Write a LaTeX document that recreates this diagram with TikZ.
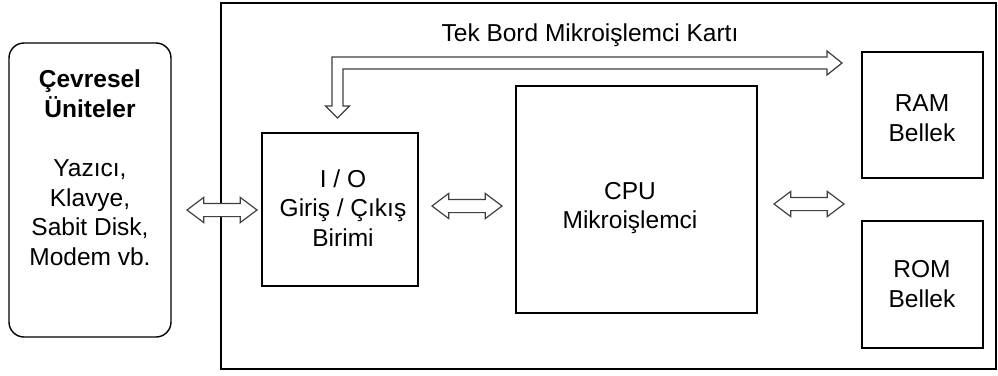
\documentclass[tikz,border=0pt]{standalone}
\usepackage{fontspec}
\setmainfont{Liberation Sans}
\usetikzlibrary{shapes.arrows}
\begin{document}
\begin{tikzpicture}[x=1pt,y=-1pt,
  box/.style={draw, line width=1.4pt, inner sep=0pt, outer sep=0pt},
  txt/.style={font=\fontsize{24.5}{29.6}\selectfont, align=center, inner sep=0pt},
  dbl/.style={draw=black!75, line width=1.2pt, fill=white, double arrow,
    minimum height=70pt, double arrow head extend=6pt,
    double arrow tip angle=74, inner xsep=0pt, inner ysep=6pt},
  bus/.style={draw=black!75, line width=1.2pt, fill=white, line join=miter}]
\useasboundingbox (0,0) rectangle (998,375);
% outer board frame
\node[box, minimum width=775pt, minimum height=366pt] (board) at (608.5,186) {};
% peripheral units
\node[box, rounded corners=15pt, minimum width=162pt, minimum height=294pt] (per) at (90,190) {};
% boxes
\node[box, minimum width=156pt, minimum height=153pt] (io) at (340,209.5) {};
\node[box, minimum width=241pt, minimum height=227pt] (cpu) at (636.5,199.5) {};
\node[box, minimum width=121pt, minimum height=126pt] (ram) at (922.5,115) {};
\node[box, minimum width=121pt, minimum height=127pt] (rom) at (922.5,284.5) {};
% double arrows
\node[dbl] (a1) at (222,210) {};
\node[dbl] (a2) at (467,206) {};
\node[dbl] (a3) at (809,204) {};
% bus arrow
\coordinate (busS) at (337.5,118);
\coordinate (busE) at (842,63);
\draw[bus] (busS) -- (349.5,106) -- (343,106) -- (343,69) -- (827,69) -- (827,75)
  -- (busE) -- (827,51) -- (827,57) -- (332,57) -- (332,106) -- (325.5,106) -- cycle;
% texts
\node[txt, anchor=base] (title) at (590,41) {Tek Bord Mikroişlemci Kartı};
\node[txt] (pertxt) at (90,168) {\textbf{Çevresel}\\\textbf{Üniteler}\\[29.6pt]Yazıcı,\\Klavye,\\Sabit Disk,\\Modem vb.};
\node[txt] (iotxt) at (343,208) {I / O\\Giriş / Çıkış\\Birimi};
\node[txt] (cputxt) at (630,208) {CPU\\Mikroişlemci};
\node[txt] (ramtxt) at (922,118) {RAM\\Bellek};
\node[txt] (romtxt) at (922,284) {ROM\\Bellek};
\end{tikzpicture}
\end{document}
